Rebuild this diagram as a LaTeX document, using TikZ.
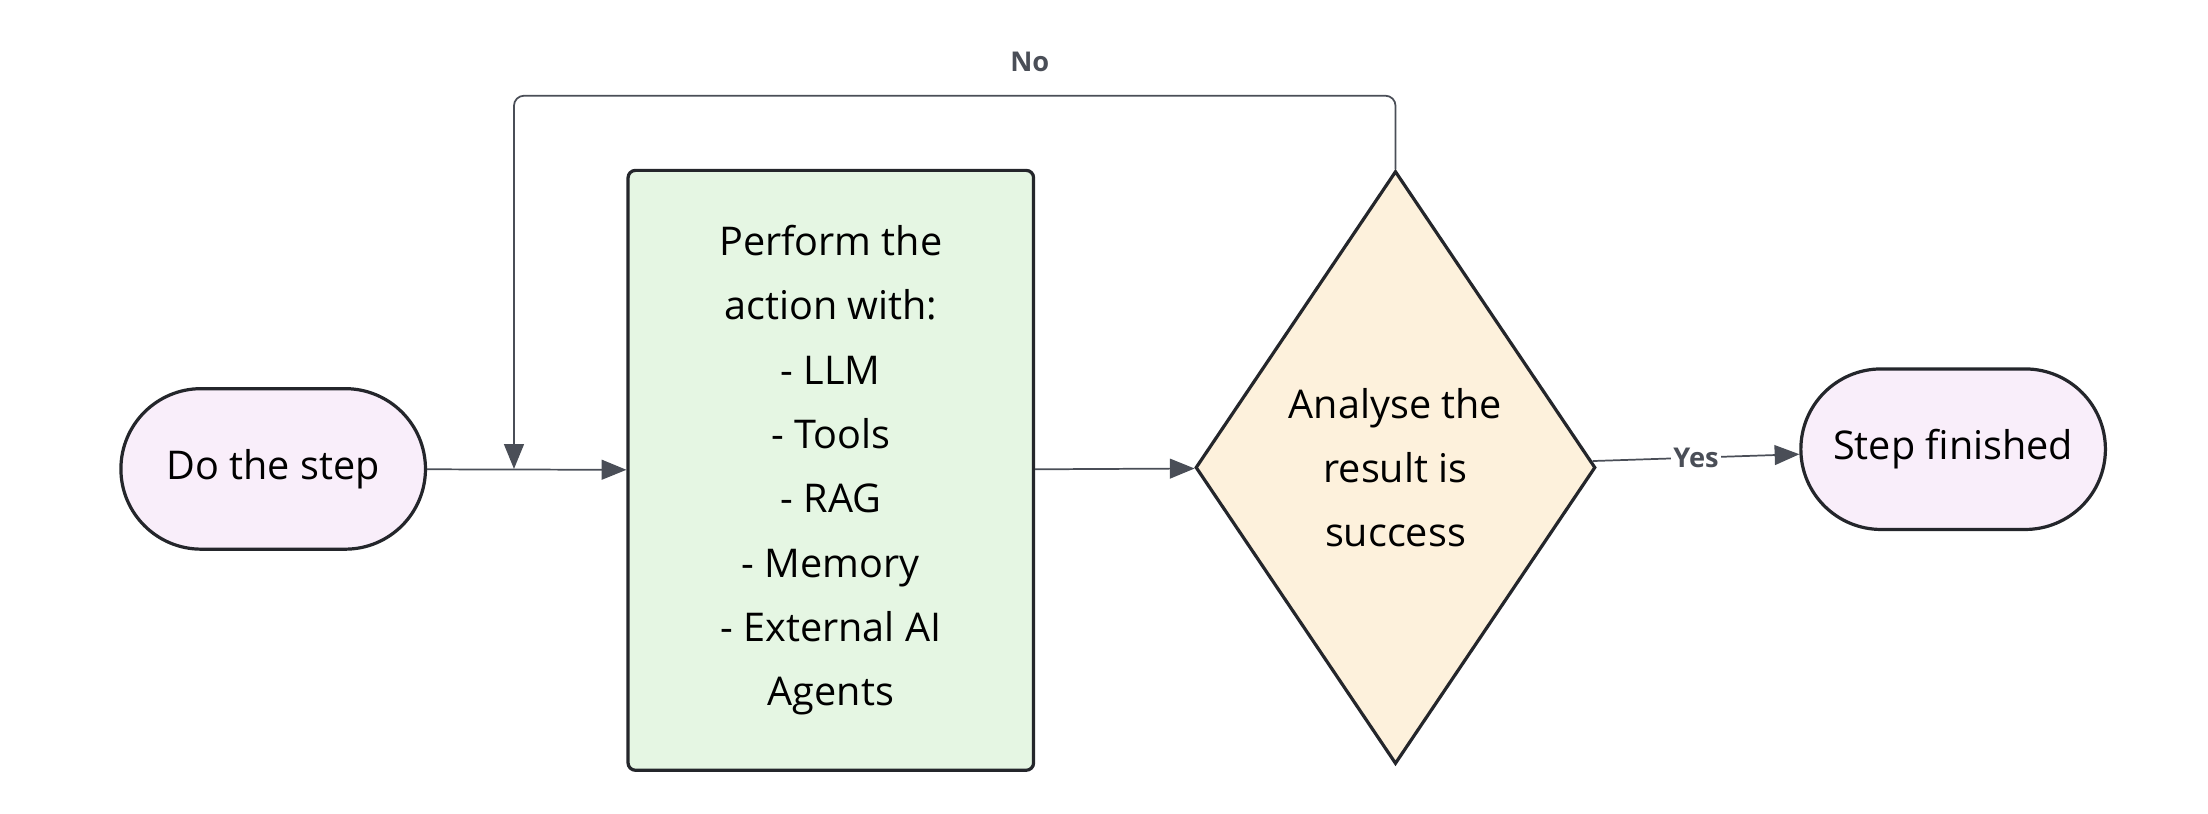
\documentclass[tikz,border=0pt]{standalone}
\usepackage{fontspec}
\setmainfont{Open Sans}
\usetikzlibrary{shapes.geometric, shapes.misc, arrows.meta}
\definecolor{termfill}{HTML}{F9EEFA}
\definecolor{actfill}{HTML}{E5F6E3}
\definecolor{decfill}{HTML}{FDF1DC}
\definecolor{edge}{HTML}{24262B}
\definecolor{wire}{HTML}{4A4E57}
\begin{document}
\begin{tikzpicture}[
    x = 0.02cm, y = 0.02cm,
    font = \fontsize{16}{26}\selectfont,
    terminal/.style = {rounded rectangle,
      draw = edge, line width = 1.3pt, fill = termfill,
      minimum width = 228*0.02cm, minimum height = 114*0.02cm},
    action/.style = {rectangle, rounded corners = 3pt,
      draw = edge, line width = 1.3pt, fill = actfill, align = center,
      minimum width = 288*0.02cm, minimum height = 426*0.02cm},
    decision/.style = {diamond, inner sep = 0pt, align = center,
      draw = edge, line width = 1.3pt, fill = decfill,
      minimum width = 284*0.02cm, minimum height = 421*0.02cm},
    flow/.style = {draw = wire, line width = 0.7pt,
      -{Triangle[length = 10pt, width = 8pt]}},
    tag/.style = {font = \fontsize{11}{13}\selectfont\bfseries, text = wire}
    ]
    \useasboundingbox (0, 0) rectangle (1568, 578);
    \node at (194, 245) [terminal, name = step] {Do the step};
    \node at (590, 244) [action, name = act] {Perform the\\action with:\\- LLM\\- Tools\\- RAG\\- Memory\\- External AI\\Agents};
    \node at (991, 246) [decision, name = check] {Analyse the\\result is\\success};
    \node at (1387, 259) [terminal, name = done] {Step finished};
    \coordinate (merge) at (365, 245);

    \draw [flow] (step) to (act);
    \draw [flow] (act) to (check);
    \draw [flow] (check) to node [tag, fill = white, inner sep = 1pt] {Yes} (done);
    \draw [flow, rounded corners = 4pt] (check.north) |- (620, 510)
      node [tag, above, pos = 0.85, yshift = 6pt] {No} -| (merge);
\end{tikzpicture}
\end{document}
